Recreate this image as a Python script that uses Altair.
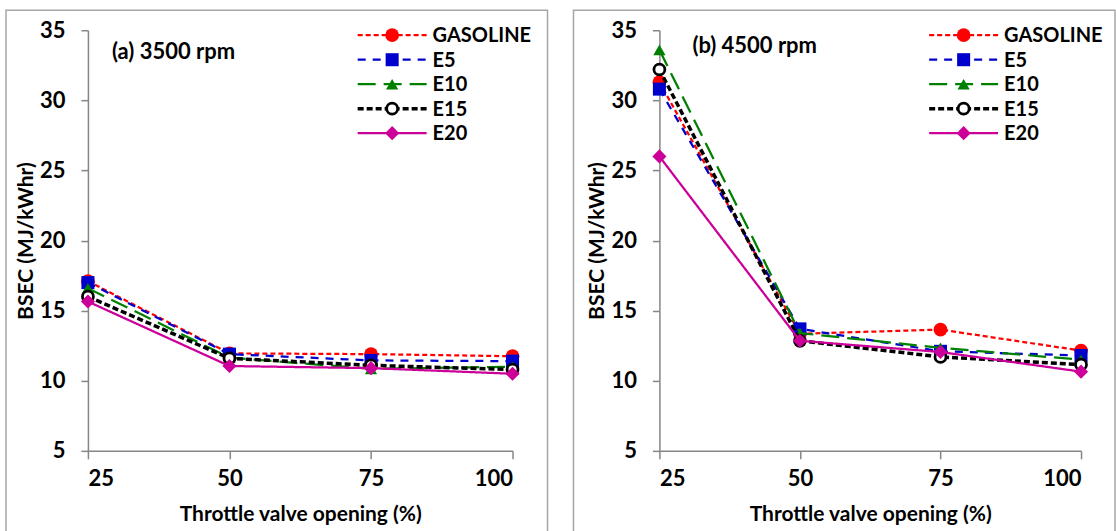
import altair as alt
import pandas as pd

throttle = [25, 50, 75, 100]
fuels = ["GASOLINE", "E5", "E10", "E15", "E20"]

# (a) 3500 rpm
gasoline_a = [17.1, 11.95, 11.9, 11.75]
e5_a = [17.0, 11.9, 11.45, 11.4]
e10_a = [16.6, 11.65, 10.85, 11.0]
e15_a = [16.0, 11.6, 11.1, 10.8]
e20_a = [15.65, 11.05, 10.9, 10.5]

# (b) 4500 rpm
gasoline_b = [31.3, 13.35, 13.65, 12.15]
e5_b = [30.8, 13.7, 12.1, 11.8]
e10_b = [33.6, 13.4, 12.35, 11.5]
e15_b = [32.2, 12.85, 11.7, 11.15]
e20_b = [26.0, 12.85, 12.05, 10.65]

y_ticks = [5, 10, 15, 20, 25, 30, 35]

FONT = "Lato"
AXIS_GREY = "#868686"

styles = {
    "GASOLINE": dict(color="#FF0000", dash=[5, 3], width=2.25, shape="circle", size=190, hollow=False),
    "E5": dict(color="#0000CC", dash=[8, 7], width=2.25, shape="square", size=170, hollow=False),
    "E10": dict(color="#008000", dash=[18, 8], width=2.25, shape="triangle-up", size=150, hollow=False),
    "E15": dict(color="#000000", dash=[6, 3], width=3.5, shape="circle", size=120, hollow=True),
    "E20": dict(color="#CC0099", dash=[1, 0], width=2.25, shape="diamond", size=200, hollow=False),
}


def point_mark(st):
    if st["hollow"]:
        return dict(shape=st["shape"], size=st["size"], filled=True,
                    fill="white", stroke=st["color"], strokeWidth=2.75, opacity=1)
    return dict(shape=st["shape"], size=st["size"], filled=True,
                color=st["color"], opacity=1)


def panel(series, label, label_x, label_y, width, height, box):
    layers = []
    # panel frame
    layers.append(
        alt.Chart(pd.DataFrame({"k": [0]})).mark_rect(
            fillOpacity=0, stroke="#A6A6A6", strokeWidth=1.5
        ).encode(x=alt.value(box[0]), x2=alt.value(box[1]),
                 y=alt.value(box[2]), y2=alt.value(box[3]))
    )
    xenc = alt.X("throttle:Q",
                 scale=alt.Scale(domain=[25, 100], nice=False, zero=False),
                 axis=alt.Axis(values=throttle, title="Throttle valve opening (%)",
                               labelPadding=10, titlePadding=14, tickSize=8))
    yenc = alt.Y("bsec:Q",
                 scale=alt.Scale(domain=[5, 35], nice=False, zero=False),
                 axis=alt.Axis(values=y_ticks, title="BSEC (MJ/kWhr)",
                               labelPadding=16, titlePadding=3, tickSize=7))
    for f in fuels:
        st = styles[f]
        df = pd.DataFrame({"throttle": throttle, "bsec": series[f], "fuel": f})
        base = alt.Chart(df).encode(x=xenc, y=yenc)
        layers.append(base.mark_line(color=st["color"], strokeDash=st["dash"],
                                     strokeWidth=st["width"]))
        layers.append(base.mark_point(**point_mark(st)))
    # legend
    for i, f in enumerate(fuels):
        st = styles[f]
        ly = 5 + 24.5 * i
        lc = alt.Chart(pd.DataFrame({"fuel": [f]}))
        layers.append(lc.mark_rule(color=st["color"], strokeDash=st["dash"],
                                   strokeWidth=st["width"]).encode(
            x=alt.value(270), x2=alt.value(339), y=alt.value(ly)))
        layers.append(lc.mark_point(**point_mark(st)).encode(x=alt.value(304.5), y=alt.value(ly)))
        layers.append(lc.mark_text(align="left", baseline="middle", font=FONT,
                                   fontWeight="bold", fontSize=20, color="black").encode(
            x=alt.value(345), y=alt.value(ly + 1), text="fuel:N"))
    layers.append(
        alt.Chart(pd.DataFrame({"t": [label]})).mark_text(
            align="left", baseline="middle", font=FONT, fontWeight="bold",
            fontSize=22, color="black").encode(
            x=alt.value(label_x), y=alt.value(label_y), text="t:N")
    )
    return alt.layer(*layers).properties(width=width, height=height)


series_a = dict(zip(fuels, [gasoline_a, e5_a, e10_a, e15_a, e20_a]))
series_b = dict(zip(fuels, [gasoline_b, e5_b, e10_b, e15_b, e20_b]))

left = panel(series_a, "(a) 3500 rpm", 24, 22, 425, 421, (-82, 460, -20, 560))
right = panel(series_b, "(b) 4500 rpm", 33, 16, 422, 421, (-86, 456, -20, 560))

chart = alt.hconcat(left, right, spacing=147, bounds="flush").properties(
    padding={"left": 5, "top": 9, "right": 0, "bottom": 0}
).configure_view(stroke=None).configure_axis(
    grid=False,
    domainColor=AXIS_GREY, domainWidth=1.5,
    tickColor=AXIS_GREY, tickWidth=1.5,
    labelFont=FONT, labelFontSize=22, labelFontWeight="bold", labelColor="black",
    titleFont=FONT, titleFontSize=21, titleFontWeight="bold", titleColor="black",
)

chart.save("out.html", embed_options={"renderer": "svg", "actions": False})
